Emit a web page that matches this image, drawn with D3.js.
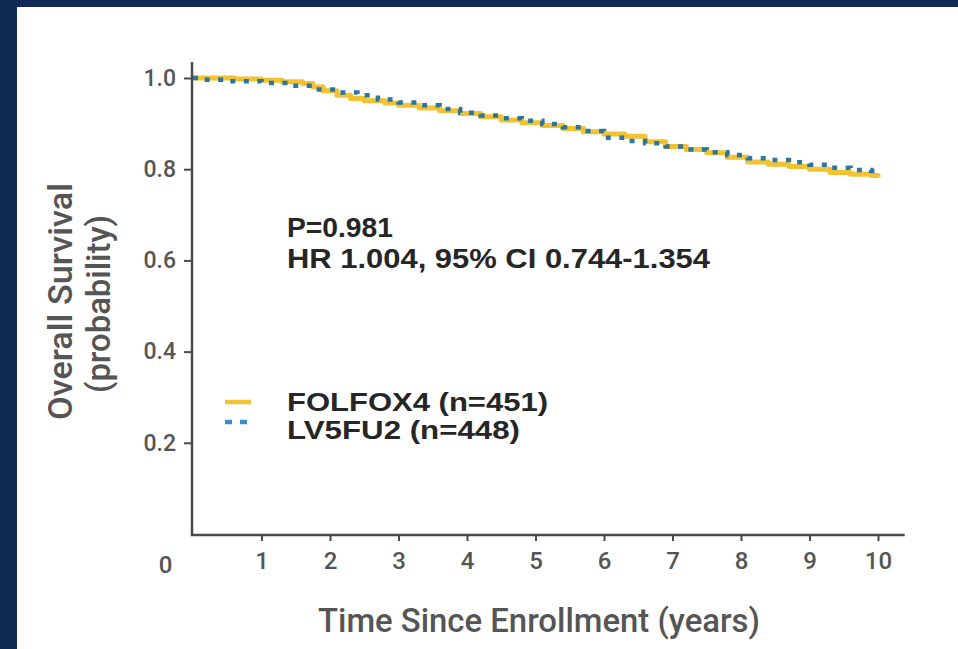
<!DOCTYPE html>
<html>
<head>
<meta charset="utf-8">
<script src="https://cdn.jsdelivr.net/npm/d3@7"></script>
<style>
  html, body { margin: 0; padding: 0; background: #ffffff; }
  svg { display: block; }
</style>
</head>
<body>
<svg id="chart" width="958" height="649"></svg>
<script>
// Kaplan-Meier overall survival, FOLFOX4 vs LV5FU2
const folfoxTimes = [0, 0.6, 1.0, 1.3, 1.6, 1.75, 1.9, 2.1, 2.3, 2.5, 2.8, 3.0, 3.3, 3.6, 3.9, 4.2, 4.5, 4.8, 5.1, 5.4, 5.7, 6.0, 6.3, 6.6, 6.9, 7.2, 7.5, 7.8, 8.1, 8.4, 8.7, 9.0, 9.3, 9.6, 9.9, 10.0];
const folfoxSurv  = [1.000, 0.998, 0.995, 0.992, 0.988, 0.980, 0.972, 0.962, 0.955, 0.950, 0.945, 0.940, 0.934, 0.928, 0.922, 0.915, 0.908, 0.902, 0.896, 0.889, 0.882, 0.877, 0.872, 0.860, 0.850, 0.843, 0.836, 0.826, 0.816, 0.811, 0.806, 0.800, 0.793, 0.789, 0.786, 0.782];

const lv5Times = [0, 0.1, 0.5, 1.0, 1.4, 1.8, 2.1, 2.4, 2.7, 3.0, 3.3, 3.6, 3.9, 4.2, 4.5, 4.8, 5.1, 5.4, 5.7, 6.0, 6.3, 6.6, 6.9, 7.2, 7.5, 7.8, 8.1, 8.4, 8.7, 9.0, 9.3, 9.6, 9.9, 10.0];
const lv5Surv  = [1.000, 0.996, 0.993, 0.989, 0.983, 0.975, 0.968, 0.962, 0.953, 0.946, 0.940, 0.932, 0.924, 0.918, 0.912, 0.906, 0.899, 0.892, 0.884, 0.869, 0.862, 0.857, 0.850, 0.843, 0.837, 0.831, 0.824, 0.820, 0.815, 0.810, 0.803, 0.798, 0.796, 0.795];

const seriesNames = ["FOLFOX4 (n=451)", "LV5FU2 (n=448)"];
const xTicks = [1, 2, 3, 4, 5, 6, 7, 8, 9, 10];
const yTicks = [0.2, 0.4, 0.6, 0.8, 1.0];
const originLabel = "0";
const statLines = ["P=0.981", "HR 1.004, 95% CI 0.744-1.354"];
const xTitle = "Time Since Enrollment (years)";
const yTitle = ["Overall Survival", "(probability)"];

const svg = d3.select("#chart");
const W = 958, H = 649;

// frame: navy bands on the top and left edges
svg.append("rect").attr("x", 0).attr("y", 0).attr("width", W).attr("height", H).attr("fill", "#ffffff");
svg.append("rect").attr("x", 0).attr("y", 0).attr("width", W).attr("height", 7).attr("fill", "#0e2a55");
svg.append("rect").attr("x", 0).attr("y", 0).attr("width", 17).attr("height", H).attr("fill", "#0e2a55");

const x = d3.scaleLinear().domain([0, 10]).range([193, 878]);
const y = d3.scaleLinear().domain([0, 1]).range([534, 78]);

const axisColor = "#4a4a4a";
const labelColor = "#555555";
const tickFont = "Roboto, 'Liberation Sans', sans-serif";

// y axis
const yAxis = svg.append("g").attr("transform", `translate(${x(0) - 1},0)`)
  .call(d3.axisLeft(y).tickValues(yTicks).tickSize(8).tickPadding(8).tickFormat(d3.format(".1f")));
yAxis.select(".domain").remove();
yAxis.selectAll(".tick line").attr("stroke", axisColor).attr("stroke-width", 2);
yAxis.selectAll(".tick text").attr("fill", labelColor).attr("font-family", tickFont)
  .attr("font-size", 23).attr("font-weight", 500);
svg.append("line")
  .attr("x1", x(0) - 1).attr("x2", x(0) - 1)
  .attr("y1", y(0) + 1).attr("y2", y(1.035))
  .attr("stroke", axisColor).attr("stroke-width", 2.5);

// x axis
const xAxis = svg.append("g").attr("transform", `translate(0,${y(0) + 1})`)
  .call(d3.axisBottom(x).tickValues(xTicks).tickSize(6).tickPadding(11).tickFormat(d3.format("d")));
xAxis.select(".domain").remove();
xAxis.selectAll(".tick line").attr("stroke", axisColor).attr("stroke-width", 2);
xAxis.selectAll(".tick text").attr("fill", labelColor).attr("font-family", tickFont)
  .attr("font-size", 24).attr("font-weight", 500);
svg.append("line")
  .attr("x1", x(0) - 2.2).attr("x2", x(10.39))
  .attr("y1", y(0) + 1).attr("y2", y(0) + 1)
  .attr("stroke", axisColor).attr("stroke-width", 2.5);

// shared origin label
svg.append("text").attr("x", x(-0.4)).attr("y", y(0) + 39)
  .attr("text-anchor", "middle").attr("fill", labelColor)
  .attr("font-family", tickFont).attr("font-size", 24).attr("font-weight", 500)
  .text(originLabel);

// axis titles (condensed grotesque look)
const titleFont = "Roboto, 'Liberation Sans', sans-serif";
svg.append("text").attr("x", 318).attr("y", 632)
  .attr("fill", labelColor).attr("font-family", titleFont).attr("font-size", 34).attr("font-weight", 500)
  .attr("textLength", 442).attr("lengthAdjust", "spacingAndGlyphs")
  .text(xTitle);

svg.append("text").attr("transform", "translate(72,420) rotate(-90)")
  .attr("fill", labelColor).attr("font-family", titleFont).attr("font-size", 34).attr("font-weight", 500)
  .attr("textLength", 237).attr("lengthAdjust", "spacingAndGlyphs")
  .text(yTitle[0]);
svg.append("text").attr("transform", "translate(110,393) rotate(-90)")
  .attr("fill", labelColor).attr("font-family", titleFont).attr("font-size", 34).attr("font-weight", 500)
  .attr("textLength", 178).attr("lengthAdjust", "spacingAndGlyphs")
  .text(yTitle[1]);

// survival curves
const folfox = folfoxTimes.map((t, i) => ({ t, s: folfoxSurv[i] }));
const lv5 = lv5Times.map((t, i) => ({ t, s: lv5Surv[i] }));
const line = d3.line().x(d => x(d.t)).y(d => y(d.s)).curve(d3.curveStepAfter);

const gold = "#f1c232";
const blue = "#22709f";

svg.append("path").datum(folfox).attr("d", line)
  .attr("fill", "none").attr("stroke", gold).attr("stroke-width", 5)
  .attr("stroke-linejoin", "round");
svg.append("path").datum(lv5).attr("d", line)
  .attr("fill", "none").attr("stroke", blue).attr("stroke-width", 4.5)
  .attr("stroke-dasharray", "5,8.5").attr("opacity", 0.95);

// statistics block
const statFont = "'Liberation Sans', Arial, sans-serif";
const statWidths = [106, 423];
const statBase = [237, 268];
statLines.forEach((s, i) => {
  svg.append("text").attr("x", 287).attr("y", statBase[i])
    .attr("fill", "#262626").attr("font-family", statFont).attr("font-weight", "bold").attr("font-size", 27.5)
    .attr("textLength", statWidths[i]).attr("lengthAdjust", "spacingAndGlyphs")
    .text(s);
});

// legend
const legendY = [402, 422];
const legendBase = [411, 439];
const legendWidths = [261, 233];
svg.append("line").attr("x1", 225).attr("x2", 251).attr("y1", legendY[0]).attr("y2", legendY[0])
  .attr("stroke", gold).attr("stroke-width", 4.5);
svg.append("line").attr("x1", 225).attr("x2", 250).attr("y1", legendY[1]).attr("y2", legendY[1])
  .attr("stroke", "#3b8cc4").attr("stroke-width", 4.5).attr("stroke-dasharray", "7,8");
seriesNames.forEach((s, i) => {
  svg.append("text").attr("x", 287).attr("y", legendBase[i])
    .attr("fill", "#262626").attr("font-family", statFont).attr("font-weight", "bold").attr("font-size", 26.5)
    .attr("textLength", legendWidths[i]).attr("lengthAdjust", "spacingAndGlyphs")
    .text(s);
});
</script>
</body>
</html>
